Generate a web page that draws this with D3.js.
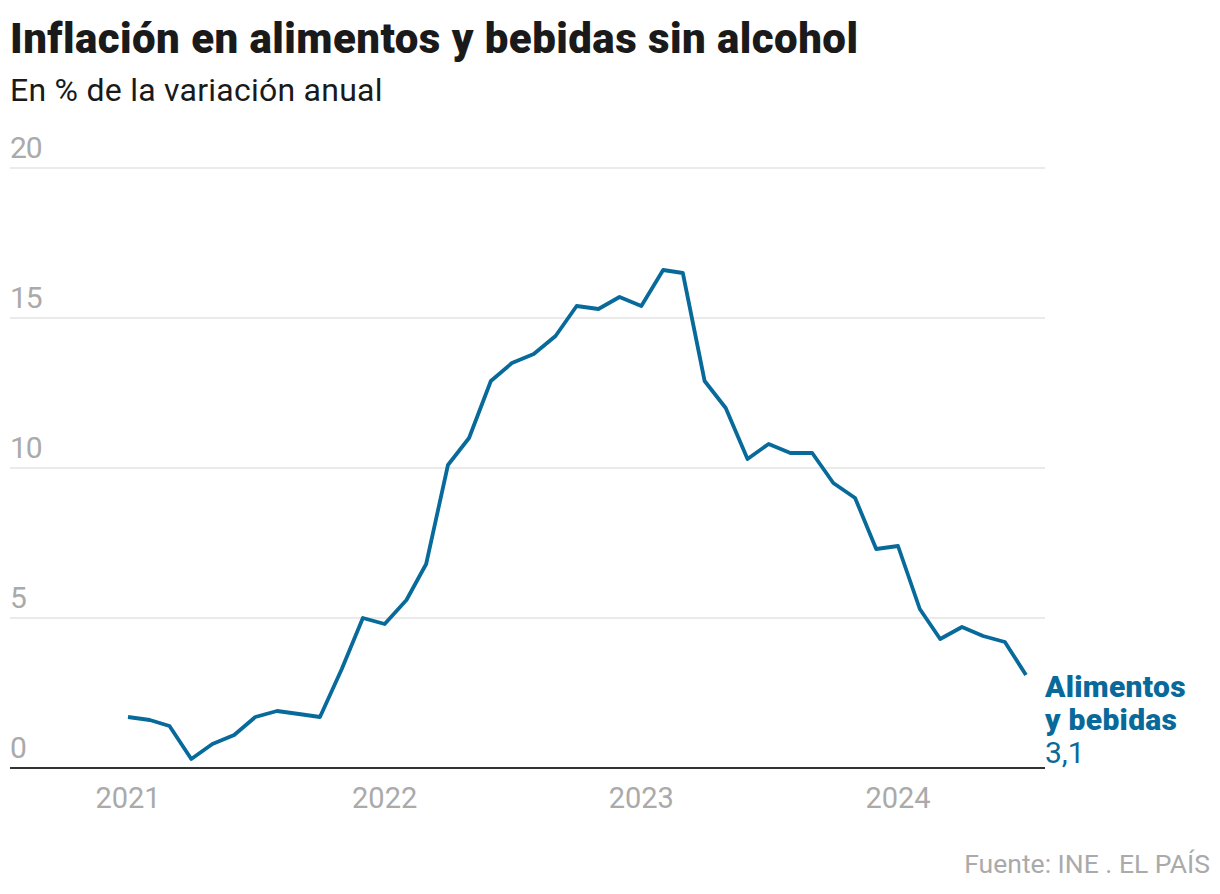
<!DOCTYPE html>
<html>
<head>
<meta charset="utf-8">
<script src="https://cdn.jsdelivr.net/npm/d3@7"></script>
<style>
  body { margin: 0; background: #fff; }
  text { font-family: "Roboto", "Liberation Sans", sans-serif; }
</style>
</head>
<body>
<script>
// monthly series, Jan 2021 .. Jul 2024
const startMonth = new Date(2021, 0, 1);
const values = [
  1.7, 1.6, 1.4, 0.3, 0.8, 1.1, 1.7, 1.9, 1.8, 1.7, 3.3, 5.0,
  4.8, 5.6, 6.8, 10.1, 11.0, 12.9, 13.5, 13.8, 14.4, 15.4, 15.3, 15.7,
  15.4, 16.6, 16.5, 12.9, 12.0, 10.3, 10.8, 10.5, 10.5, 9.5, 9.0, 7.3,
  7.4, 5.3, 4.3, 4.7, 4.4, 4.2, 3.1,
];
const yTicks = [0, 5, 10, 15, 20];
const xTicks = [2021, 2022, 2023, 2024];
const title = 'Inflación en alimentos y bebidas sin alcohol';
const subtitle = 'En % de la variación anual';
const seriesLabel = ['Alimentos', 'y bebidas'];
const lastLabel = '3,1';
const source = 'Fuente: INE . EL PAÍS';

const data = values.map((v, i) => ({
  date: d3.timeMonth.offset(startMonth, i),
  value: v,
}));

const width = 1220;
const height = 894;
const left = 10;
const right = 1045;
const color = '#086a9a';

const svg = d3.select('body')
  .append('svg')
  .attr('width', width)
  .attr('height', height);

const x = d3.scaleTime()
  .domain([new Date(2021, 0, 1), new Date(2024, 0, 1)])
  .range([128, 898]);

const y = d3.scaleLinear()
  .domain([0, 20])
  .range([768, 168]);

// header
svg.append('text')
  .attr('x', 10)
  .attr('y', 53)
  .attr('font-size', 42)
  .attr('font-weight', 900)
  .attr('letter-spacing', 0.45)
  .attr('fill', '#1a1a1a')
  .text(title);

svg.append('text')
  .attr('x', 10)
  .attr('y', 101)
  .attr('font-size', 32)
  .attr('letter-spacing', 0.25)
  .attr('fill', '#1a1a1a')
  .text(subtitle);

// gridlines + y labels
const grid = svg.append('g');
grid.selectAll('line')
  .data(yTicks.filter((d) => d > 0))
  .join('line')
  .attr('x1', left)
  .attr('x2', right)
  .attr('y1', (d) => y(d))
  .attr('y2', (d) => y(d))
  .attr('stroke', '#e3e3e3')
  .attr('stroke-width', 1.5);

grid.selectAll('text')
  .data(yTicks)
  .join('text')
  .attr('x', left)
  .attr('y', (d) => y(d) - 10)
  .attr('font-size', 30)
  .attr('letter-spacing', -1)
  .attr('fill', '#aaaaaa')
  .text((d) => d);

// baseline
svg.append('line')
  .attr('x1', left)
  .attr('x2', right)
  .attr('y1', y(0))
  .attr('y2', y(0))
  .attr('stroke', '#333')
  .attr('stroke-width', 2);

// x labels
svg.append('g')
  .selectAll('text')
  .data(xTicks)
  .join('text')
  .attr('x', (d) => x(new Date(d, 0, 1)))
  .attr('y', 808)
  .attr('text-anchor', 'middle')
  .attr('font-size', 29)
  .attr('fill', '#aaaaaa')
  .text((d) => d);

// the line
const line = d3.line()
  .x((d) => x(d.date))
  .y((d) => y(d.value));

svg.append('path')
  .datum(data)
  .attr('d', line)
  .attr('fill', 'none')
  .attr('stroke', color)
  .attr('stroke-width', 3.8)
  .attr('stroke-linejoin', 'round');

// end label
const last = data[data.length - 1];
const lx = x(last.date) + 19;
const lbl = svg.append('text')
  .attr('x', lx)
  .attr('y', y(last.value) + 22)
  .attr('fill', color)
  .attr('font-size', 30);

lbl.selectAll('tspan.name')
  .data(seriesLabel)
  .join('tspan')
  .attr('class', 'name')
  .attr('x', lx)
  .attr('dy', (d, i) => i === 0 ? 0 : 33)
  .attr('font-weight', 900)
  .attr('letter-spacing', 0.3)
  .text((d) => d);

lbl.append('tspan')
  .attr('x', lx)
  .attr('dy', 33)
  .text(lastLabel);

// source
svg.append('text')
  .attr('x', 1210)
  .attr('y', 873)
  .attr('text-anchor', 'end')
  .attr('font-size', 26.5)
  .attr('fill', '#aaaaaa')
  .text(source);
</script>
</body>
</html>
